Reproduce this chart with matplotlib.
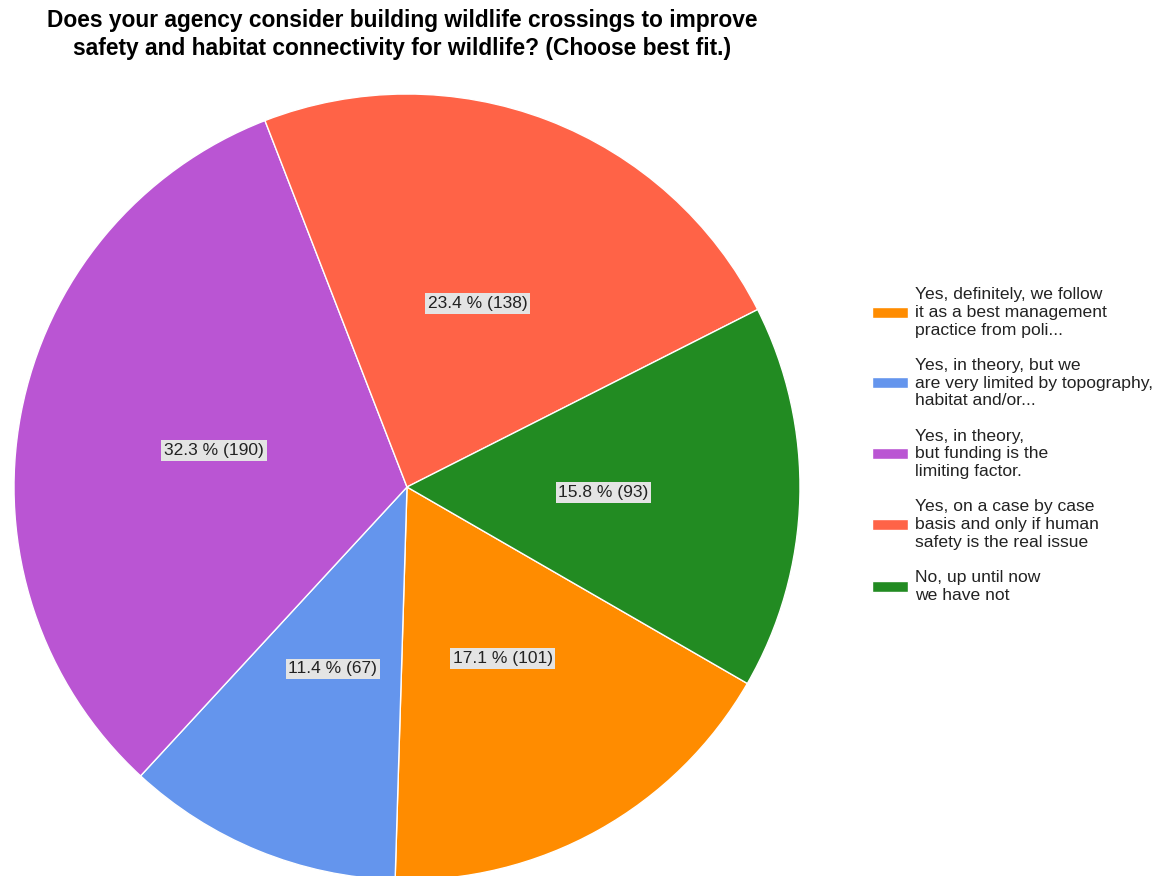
import matplotlib
matplotlib.use("Agg")
import matplotlib.pyplot as plt

plt.rcParams["font.family"] = ["Liberation Sans", "DejaVu Sans"]

# survey answers, in legend order
answers = [
    "Yes, definitely, we follow\nit as a best management\npractice from poli...",
    "Yes, in theory, but we\nare very limited by topography,\nhabitat and/or...",
    "Yes, in theory,\nbut funding is the\nlimiting factor.",
    "Yes, on a case by case\nbasis and only if human\nsafety is the real issue",
    "No, up until now\nwe have not",
]
counts = [101, 67, 190, 138, 93]
colors = ["#ff8c00", "#6495ed", "#ba55d3", "#ff6347", "#228b22"]

title = ("Does your agency consider building wildlife crossings to improve\n"
         "safety and habitat connectivity for wildlife? (Choose best fit.)")

fig = plt.figure(figsize=(11.56, 8.76), dpi=100)
ax = fig.add_axes([14 / 1156, -4 / 876, 786 / 1156, 786 / 876])

total = sum(counts)
wedges, texts, autotexts = ax.pie(
    counts, colors=colors, startangle=-30, counterclock=False,
    autopct="%.1f", pctdistance=0.5,
    wedgeprops=dict(edgecolor="white", linewidth=1),
)
for t, c in zip(autotexts, counts):
    t.set_text(f"{100 * c / total:.1f} % ({c})")
    t.set_fontsize(12.5)
    t.set_color("#222222")
    t.set_bbox(dict(facecolor="#e4e4e4", edgecolor="none", pad=2))

ax.set_xlim(-1, 1)
ax.set_ylim(-1, 1)
ax.set_aspect("equal")
ax.axis("off")

fig.text(402 / 1156, 1 - 9 / 876, title, ha="center", va="top",
         fontsize=16.4, fontweight="bold", color="black", linespacing=1.25)

leg = fig.legend(
    wedges, answers, loc="center left",
    bbox_to_anchor=(856 / 1156, 1 - 445 / 876),
    frameon=False, fontsize=12.6, handlelength=2.05, handleheight=0.6,
    handletextpad=0.4, labelspacing=1.16,
)
for t in leg.get_texts():
    t.set_color("#222222")
    t.set_linespacing(1.23)

fig.savefig("out.png", dpi=100)
